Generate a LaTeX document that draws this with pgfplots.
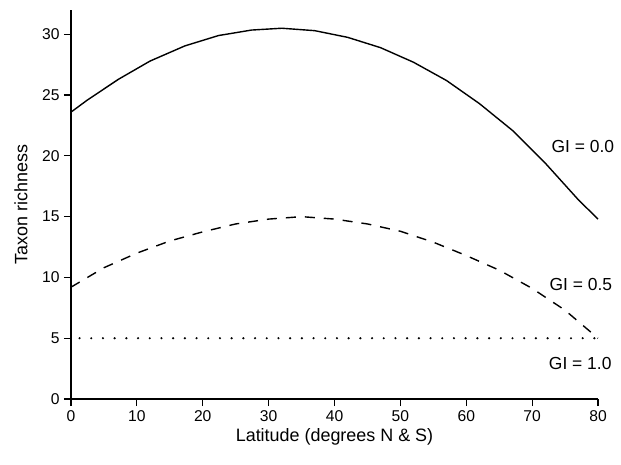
\documentclass[border=0pt]{standalone}
\usepackage{pgfplots}
\pgfplotsset{compat=1.18}
\usepackage{fontspec}
\setmainfont{Liberation Sans}
\begin{document}
\begin{tikzpicture}
\begin{axis}[
  scale only axis,
  width=527bp, height=389bp,
  xmin=0, xmax=80, ymin=0, ymax=32,
  axis x line*=bottom, axis y line*=left,
  axis line style={line width=1.2bp, -},
  xtick={0,10,...,80}, ytick={0,5,...,30},
  tick align=outside, major tick length=7bp,
  tick style={line width=1.2bp, black},
  /pgf/number format/assume math mode=true,
  tick label style={font=\fontsize{15.7}{18}\selectfont},
  xticklabel style={yshift=-1bp},
  yticklabel style={xshift=-1bp},
  xlabel={Latitude (degrees N \& S)},
  ylabel={Taxon richness},
  every axis x label/.style={at={(axis description cs:0.5,-0.0977)}, anchor=center, font=\fontsize{18}{21}\selectfont},
  every axis y label/.style={at={(axis description cs:-0.0949,0.5)}, anchor=center, rotate=90, font=\fontsize{18}{21}\selectfont},
  clip=false,
]
\addplot[black, line width=1.4bp, line join=round] coordinates {
(0,23.6) (2.5,24.6) (7.2,26.3) (12,27.8) (17.3,29.05) (22.4,29.9) (27.4,30.35) (32,30.5) (37,30.3) (42,29.75) (47,28.9) (52,27.7) (57,26.2) (62,24.3) (67,22.1) (72,19.4) (77,16.4) (80,14.8)
};
\addplot[black, line width=1.4bp, line join=round, dash pattern=on 10bp off 9bp] coordinates {
(0,9.2) (5,10.8) (10,12.0) (15,13.0) (20,13.75) (25,14.4) (30,14.8) (35,15.0) (40,14.8) (45,14.4) (50,13.8) (55,12.9) (60,11.8) (65,10.6) (70,9.1) (75,7.3) (80,5.0)
};
\addplot[black, line width=2.4bp, line cap=round, dash pattern=on 0bp off 11.7bp] coordinates {
(1.3,5) (80,5)
};
\node[font=\fontsize{17.5}{20}\selectfont] at (axis cs:77.7,20.8) {GI = 0.0};
\node[font=\fontsize{17.5}{20}\selectfont] at (axis cs:77.4,9.4) {GI = 0.5};
\node[font=\fontsize{17.5}{20}\selectfont] at (axis cs:77.3,2.96) {GI = 1.0};
\path (rel axis cs:0,0) ++(-71bp,-65bp) coordinate (bbA);
\path (rel axis cs:1,1) ++(23bp,10bp) coordinate (bbB);
\end{axis}
\end{tikzpicture}
\end{document}
